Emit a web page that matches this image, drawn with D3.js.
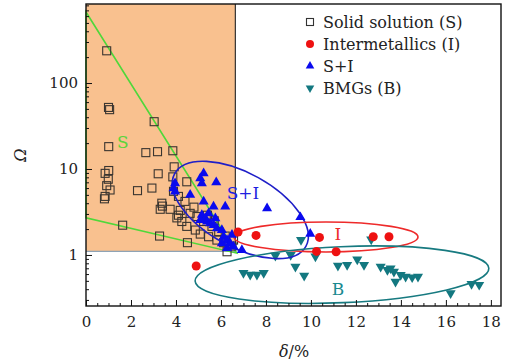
<!DOCTYPE html>
<html>
<head>
<meta charset="utf-8">
<script src="https://cdn.jsdelivr.net/npm/d3@7"></script>
<style>
  body { margin: 0; background: #fff; }
  svg { display: block; font-family: "DejaVu Serif", serif; }
</style>
</head>
<body>
<div id="chart"></div>
<script>
// delta (%), omega
const solidSolution = [
  [0.92, 237], [1.0, 52], [1.05, 49], [3.03, 35.5], [1.01, 18.2], [2.66, 15.5],
  [3.18, 15.9], [3.86, 16.3], [3.92, 10.6], [1.01, 9.6], [0.85, 8.9], [3.21, 8.8],
  [3.86, 8.1], [4.48, 7.1], [0.99, 7.6], [0.92, 6.4], [1.07, 5.7], [0.85, 4.8],
  [0.82, 4.5], [2.29, 5.6], [2.93, 6.0], [3.89, 5.5], [4.11, 4.8], [3.37, 4.0],
  [3.3, 3.4], [3.74, 3.4], [4.19, 3.3], [4.11, 2.9], [4.04, 2.7], [4.26, 2.45],
  [4.48, 2.15], [4.86, 1.95], [5.08, 1.75], [5.45, 1.63], [5.82, 1.49], [6.12, 1.39],
  [6.49, 1.27], [4.63, 3.05], [4.93, 2.8], [5.23, 2.45], [5.6, 2.15], [5.9, 1.87],
  [6.19, 1.66], [6.56, 1.49], [1.63, 2.22], [3.27, 1.66], [4.51, 1.39], [6.27, 1.09],
  [3.4, 3.7], [4.4, 4.2], [4.8, 3.6], [5.4, 2.9], [5.7, 2.5]
];
const solidPlusInter = [
  [5.23, 8.9], [5.08, 7.8], [5.15, 6.8], [5.79, 7.0], [3.96, 6.8], [3.89, 5.95],
  [3.96, 5.45], [4.63, 5.0], [5.23, 4.17], [6.19, 3.65], [5.67, 3.65], [5.45, 3.05],
  [5.15, 2.92], [5.3, 2.67], [5.08, 2.55], [5.38, 2.44], [5.52, 2.33], [5.75, 2.67],
  [5.67, 2.23], [5.82, 2.04], [8.05, 3.49], [6.04, 1.95], [6.12, 1.63], [6.27, 1.49],
  [6.41, 1.37], [6.56, 1.25], [6.49, 1.71], [6.93, 1.14], [9.53, 2.75], [9.97, 1.76],
  [6.04, 1.37], [6.27, 1.2]
];
const intermetallics = [
  [6.76, 1.85], [7.56, 1.69], [10.38, 1.6], [4.9, 0.745], [12.77, 1.63],
  [13.47, 1.63], [10.25, 1.1], [11.12, 1.09]
];
const bmgs = [
  [9.56, 1.5], [8.42, 0.98], [9.1, 1.0], [9.31, 0.73], [9.7, 0.575], [10.2, 0.96],
  [7.0, 0.62], [7.3, 0.59], [7.6, 0.59], [7.9, 0.62], [11.2, 0.75], [11.61, 0.765],
  [12.06, 0.89], [12.36, 0.765], [12.68, 1.52], [13.1, 0.73], [13.4, 0.67],
  [13.54, 0.70], [13.69, 0.64], [13.76, 0.49], [13.99, 0.585], [14.21, 0.56],
  [14.5, 0.55], [14.76, 0.56], [16.21, 0.36], [17.14, 0.46], [17.48, 0.45]
];

// region S: shaded box and triangle boundary
const sBox = { x0: 0, x1: 6.64, y0: 1.1 };
const sTriangle = [[0, 670], [6.7, 1.05], [0, 2.7]];

// group ellipses: centre in data units, radii in px, rotation in degrees
const ellipses = [
  { name: "S+I", cx: 6.86, cy: 3.34, rx: 75, ry: 37, angle: 29, color: "#1f1fc8" },
  { name: "I", cx: 10.67, cy: 1.62, rx: 92, ry: 15, angle: 0, color: "#ee2a2a" },
  { name: "B", cx: 11.38, cy: 0.59, rx: 147, ry: 28, angle: -2.5, color: "#177a80" }
];
const regionLabels = [
  { text: "S", x: 1.64, y: 20.6, color: "#5cd43c" },
  { text: "S+I", x: 6.98, y: 5.25, color: "#1f1fe0" },
  { text: "I", x: 11.2, y: 1.75, color: "#ee2a2a" },
  { text: "B", x: 11.2, y: 0.40, color: "#1a8a90" }
];
const legendItems = [
  { label: "Solid solution (S)", kind: "square" },
  { label: "Intermetallics (I)", kind: "circle" },
  { label: "S+I", kind: "up" },
  { label: "BMGs (B)", kind: "down" }
];
const xMajorTicks = [0, 2, 4, 6, 8, 10, 12, 14, 16, 18];
const yMajorTicks = [1, 10, 100];

const W = 507, H = 363;
const svg = d3.select("#chart").append("svg").attr("width", W).attr("height", H);

const x = d3.scaleLinear().domain([0, 18.45]).range([86, 501]);
const y = d3.scaleLog().domain([0.255, 830]).range([306, 4]);

const blue = "#0a0aee", red = "#ee1111", teal = "#137880";

// shaded S box
svg.append("rect")
  .attr("x", x(sBox.x0))
  .attr("y", y.range()[1])
  .attr("width", x(sBox.x1) - x(sBox.x0))
  .attr("height", y(sBox.y0) - y.range()[1])
  .attr("fill", "#f9c18f");
svg.append("line")
  .attr("x1", x(sBox.x0)).attr("x2", x(sBox.x1))
  .attr("y1", y(sBox.y0)).attr("y2", y(sBox.y0))
  .attr("stroke", "#8fa3b5").attr("stroke-width", 1.2);
svg.append("line")
  .attr("x1", x(sBox.x1)).attr("x2", x(sBox.x1))
  .attr("y1", y.range()[1]).attr("y2", y(sBox.y0))
  .attr("stroke", "#333").attr("stroke-width", 1.2);

svg.append("path")
  .attr("d", d3.line().x(d => x(d[0])).y(d => y(d[1]))(sTriangle) + "Z")
  .attr("fill", "none")
  .attr("stroke", "#4fd83a")
  .attr("stroke-width", 1.6);

// squares
svg.append("g")
  .selectAll("rect")
  .data(solidSolution)
  .join("rect")
  .attr("x", d => x(d[0]) - 4)
  .attr("y", d => y(d[1]) - 4)
  .attr("width", 8)
  .attr("height", 8)
  .attr("fill", "none")
  .attr("stroke", "#3a3530")
  .attr("stroke-width", 1.1);

const tri = d3.symbol(d3.symbolTriangle, 44);

svg.append("g")
  .selectAll("path")
  .data(bmgs)
  .join("path")
  .attr("d", tri)
  .attr("transform", d => `translate(${x(d[0])},${y(d[1])}) rotate(180)`)
  .attr("fill", teal);

// group ellipses
svg.append("g")
  .selectAll("ellipse")
  .data(ellipses)
  .join("ellipse")
  .attr("cx", 0).attr("cy", 0)
  .attr("rx", d => d.rx).attr("ry", d => d.ry)
  .attr("transform", d => `translate(${x(d.cx)},${y(d.cy)}) rotate(${d.angle})`)
  .attr("fill", "none")
  .attr("stroke", d => d.color)
  .attr("stroke-width", 1.6);

svg.append("g")
  .selectAll("path")
  .data(solidPlusInter)
  .join("path")
  .attr("d", tri)
  .attr("transform", d => `translate(${x(d[0])},${y(d[1])})`)
  .attr("fill", blue);

svg.append("g")
  .selectAll("circle")
  .data(intermetallics)
  .join("circle")
  .attr("cx", d => x(d[0]))
  .attr("cy", d => y(d[1]))
  .attr("r", 4.5)
  .attr("fill", red);

svg.append("g")
  .selectAll("text")
  .data(regionLabels)
  .join("text")
  .attr("x", d => x(d.x))
  .attr("y", d => y(d.y))
  .attr("dy", "0.35em")
  .attr("text-anchor", "middle")
  .attr("font-size", 17)
  .attr("fill", d => d.color)
  .text(d => d.text);

// axes, ticks pointing inward
const xMinor = d3.range(0, 18.01, 0.5).filter(v => v % 2 !== 0);
svg.append("g")
  .attr("transform", `translate(0,${y.range()[0]})`)
  .call(d3.axisBottom(x).tickValues(xMinor).tickSize(-3).tickFormat(""))
  .call(g => g.select(".domain").remove());
svg.append("g")
  .attr("transform", `translate(0,${y.range()[0]})`)
  .call(d3.axisBottom(x).tickValues(xMajorTicks).tickSize(-6).tickPadding(10))
  .call(g => g.select(".domain").remove())
  .call(g => g.selectAll("text").attr("font-size", 15).attr("fill", "#222").attr("font-family", "DejaVu Serif"));

const yMinor = [];
[0.1, 1, 10, 100].forEach(dec => {
  for (let k = 2; k <= 9; k++) {
    const v = dec * k;
    if (v >= 0.255 && v <= 830) yMinor.push(v);
  }
});
svg.append("g")
  .attr("transform", `translate(${x.range()[0]},0)`)
  .call(d3.axisLeft(y).tickValues(yMinor).tickSize(-3).tickFormat(""))
  .call(g => g.select(".domain").remove());
svg.append("g")
  .attr("transform", `translate(${x.range()[0]},0)`)
  .call(d3.axisLeft(y).tickValues(yMajorTicks).tickSize(-6).tickPadding(8).tickFormat(d3.format("d")))
  .call(g => g.select(".domain").remove())
  .call(g => g.selectAll("text").attr("font-size", 15).attr("fill", "#222").attr("font-family", "DejaVu Serif"));

svg.selectAll(".tick line").attr("stroke", "#111").attr("stroke-width", 1);

// frame
svg.append("rect")
  .attr("x", x.range()[0])
  .attr("y", y.range()[1])
  .attr("width", x.range()[1] - x.range()[0])
  .attr("height", y.range()[0] - y.range()[1])
  .attr("fill", "none")
  .attr("stroke", "#111")
  .attr("stroke-width", 1.4);

// axis titles
svg.append("text")
  .attr("x", 294).attr("y", 357)
  .attr("text-anchor", "middle")
  .attr("font-size", 16)
  .attr("fill", "#222")
  .html('<tspan font-style="italic">δ</tspan>/%');
svg.append("text")
  .attr("transform", "translate(26,155) rotate(-90)")
  .attr("text-anchor", "middle")
  .attr("font-size", 16)
  .attr("font-style", "italic")
  .attr("fill", "#222")
  .text("Ω");

// legend
const legend = svg.append("g").attr("transform", "translate(310,22)");
const row = legend.selectAll("g")
  .data(legendItems)
  .join("g")
  .attr("transform", (d, i) => `translate(0,${i * 22})`);
row.each(function (d) {
  const g = d3.select(this);
  if (d.kind === "square") {
    g.append("rect").attr("x", -3.5).attr("y", -3.5).attr("width", 7).attr("height", 7)
      .attr("fill", "none").attr("stroke", "#333").attr("stroke-width", 1.1);
  } else if (d.kind === "circle") {
    g.append("circle").attr("r", 4).attr("fill", red);
  } else {
    g.append("path").attr("d", d3.symbol(d3.symbolTriangle, 32))
      .attr("transform", d.kind === "down" ? "rotate(180)" : null)
      .attr("fill", d.kind === "down" ? teal : blue);
  }
  g.append("text")
    .attr("x", 13).attr("dy", "0.35em")
    .attr("font-size", 16)
    .attr("fill", "#222")
    .text(d.label);
});
</script>
</body>
</html>
